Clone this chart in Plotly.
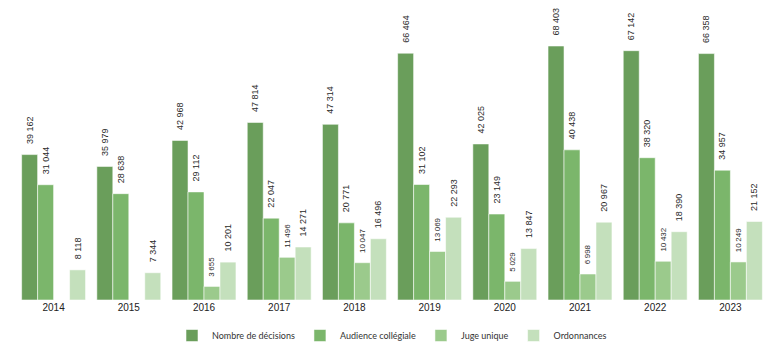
import plotly.graph_objects as go

years = ["2014", "2015", "2016", "2017", "2018", "2019", "2020", "2021", "2022", "2023"]
nombre = [39162, 35979, 42968, 47814, 47314, 66464, 42025, 68403, 67142, 66358]
audience = [31044, 28638, 29112, 22047, 20771, 31102, 23149, 40438, 38320, 34957]
juge = [None, None, 3655, 11496, 10047, 13069, 5029, 6998, 10432, 10249]
ordonnances = [8118, 7344, 10201, 14271, 16496, 22293, 13847, 20967, 18390, 21152]

names = ["Nombre de décisions", "Audience collégiale", "Juge unique", "Ordonnances"]
colors = ["#6a9e5b", "#7bb66b", "#9bca8c", "#c4e0bc"]
series = [nombre, audience, juge, ordonnances]
label_sizes = [9, 9, 8, 9]
seps = [" ", " ", "\u2009", " "]


def fmt(v, sep):
    if v is None:
        return ""
    s = f"{v:,}".replace(",", sep)
    return "\u00a0\u00a0\u00a0" + s


fig = go.Figure()
for name, col, vals, fs, sep in zip(names, colors, series, label_sizes, seps):
    fig.add_trace(go.Bar(
        x=years, y=vals, name=name,
        marker=dict(color=col, line=dict(color="rgba(255,255,255,0.55)", width=1)),
        text=[fmt(v, sep) for v in vals],
        textposition="outside", textangle=-90,
        textfont=dict(family="Liberation Sans, Arial", size=fs, color="#2a2a2a"),
        constraintext="none", cliponaxis=False,
    ))

fig.update_layout(
    width=782, height=358,
    margin=dict(l=8, r=22, t=0, b=66, autoexpand=False),
    paper_bgcolor="white", plot_bgcolor="white",
    barmode="group", bargap=0.15, bargroupgap=0,
    showlegend=True,
    legend=dict(orientation="h", x=0.5, xanchor="center", y=-0.072, yanchor="top",
                font=dict(family="Lato", size=9, color="#333"),
                itemwidth=30, traceorder="normal", tracegroupgap=0),
    xaxis=dict(showline=False, showgrid=False, zeroline=False, ticks="", automargin=False,
               tickfont=dict(family="Liberation Sans, Arial", size=10, color="#222")),
    yaxis=dict(visible=False, range=[0, 78636], showgrid=False, zeroline=False),
)

fig.write_html("out.html")
